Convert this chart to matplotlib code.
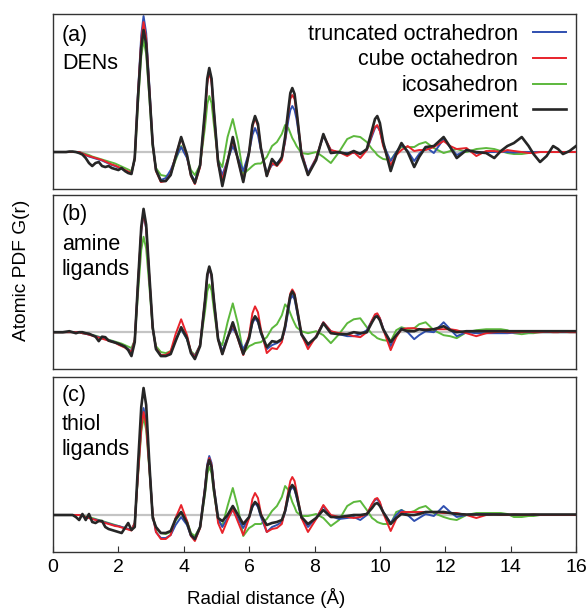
import numpy as np
import matplotlib
matplotlib.use("Agg")
import matplotlib.pyplot as plt

plt.rcParams['font.family'] = ['Liberation Sans', 'DejaVu Sans']

# sampling positions (Angstrom), shared by all curves
r = [0.0, 0.1, 0.2, 0.3, 0.4, 0.5, 0.6, 0.7, 0.8, 0.9, 1.0, 1.1, 1.2, 1.3, 1.4, 1.5, 1.6, 1.7, 1.8, 1.9, 2.0, 2.1, 2.2, 2.3, 2.4,
     2.5, 2.6, 2.7, 2.77, 2.85, 2.95, 3.05, 3.15, 3.3, 3.45, 3.6, 3.75, 3.92, 4.1, 4.22, 4.34, 4.5, 4.65, 4.72, 4.78, 4.85, 4.92,
     5.05, 5.18, 5.34, 5.5, 5.66, 5.82, 6.0, 6.1, 6.18, 6.27, 6.36, 6.54, 6.7, 6.85, 7.0, 7.1, 7.2, 7.26, 7.32, 7.39, 7.45, 7.6, 7.8, 8.05,
     8.27, 8.5, 8.75, 9.0, 9.2, 9.4, 9.6, 9.76, 9.85, 9.92, 10.0, 10.1, 10.33, 10.5, 10.66, 10.85, 11.05, 11.2, 11.4, 11.65, 11.95, 12.15,
     12.35, 12.65, 12.95, 13.25, 13.5, 13.7, 13.9, 14.1, 14.34, 14.55, 14.7, 14.9, 15.1, 15.3, 15.45, 15.6, 15.8, 16.0]

# (a) DENs
a_trunc = [0, 0, 0, 0, 0, 0, 0, 0, 0, -0.15, -0.3, -0.45, -0.55, -0.65, -0.75, -0.85, -1.0, -1.15, -1.3, -1.4, -1.55, -1.7, -1.85, -2.0, -2.1,
           -0.7, 6.0, 11.7, 13.6, 11.9, 6.5, 0.8, -1.8, -2.8, -2.6, -1.8, -0.6, 0.5, -0.6, -2.2, -2.9, -1.4, 4.0, 7.1, 8.2, 7.2, 4.2,
           -1.0, -2.3, -0.8, 0.6, -0.6, -1.9, 0.0, 1.7, 2.4, 1.7, 0.2, -2.1, -1.3, -1.1, -0.6, 1.0, 3.2, 4.2, 4.6, 4.2, 3.3, 0.0, -2.1, -0.6,
           1.6, 0.2, -0.1, -0.1, -0.1, -0.1, 0.2, 1.6, 2.4, 2.6, 2.1, 0.8, -0.9, 0.0, 0.7, 0.1, -0.9, -0.2, 0.5, -0.1, 1.3, 0.5,
           -0.3, 0.2, -0.1, 0.0, 0.0, 0.05, 0.0, -0.05, 0.0, 0.0, 0.0, 0.0, 0.0, 0.0, 0.0, 0.0, 0.0, 0.0]
a_cube = [0, 0, 0, 0, 0, 0, 0, 0, 0, -0.15, -0.3, -0.4, -0.5, -0.6, -0.7, -0.8, -0.95, -1.1, -1.25, -1.35, -1.5, -1.65, -1.8, -1.95, -2.1,
          -0.7, 5.8, 11.2, 13.0, 11.4, 6.2, 0.8, -1.9, -3.0, -2.9, -2.2, -0.4, 1.4, -0.4, -2.4, -3.2, -1.5, 3.8, 6.9, 8.0, 7.0, 4.0,
          -1.2, -2.8, -0.8, 1.2, -0.8, -2.9, 0.0, 2.5, 3.4, 2.6, 0.4, -2.4, -1.1, -1.4, -0.8, 1.2, 4.0, 5.3, 5.7, 5.3, 4.0, 0.0, -2.3, -0.6,
          1.7, 0.2, 0.0, -0.4, 0.0, -0.6, 0.2, 1.8, 2.5, 2.7, 2.1, 0.6, -1.3, -0.3, 0.2, 0.6, 0.1, 0.2, 0.2, 0.5, 1.1, 0.6,
          0.3, 0.4, -0.4, 0.1, 0.1, 0.0, 0.2, 0.1, 0.0, -0.1, -0.1, 0.0, 0.0, 0.0, 0.0, 0.0, 0.0, 0.0]
a_ico = [0, 0, 0, 0, 0, 0, 0, 0, 0, -0.1, -0.2, -0.3, -0.45, -0.55, -0.65, -0.75, -0.85, -0.95, -1.05, -1.15, -1.3, -1.45, -1.6, -1.75, -1.9,
         -0.8, 4.8, 9.6, 11.2, 9.8, 5.3, 0.5, -1.6, -2.3, -2.4, -2.2, -0.8, 0.6, -0.5, -1.8, -2.3, -1.3, 2.5, 4.8, 5.6, 4.9, 2.8,
         -0.8, -1.5, 1.5, 3.3, 1.0, -2.2, -1.7, -1.4, -1.2, -1.15, -1.15, -0.5, 0.6, 1.0, 1.8, 2.7, 2.4, 1.9, 1.4, 1.0, 0.6, -0.1, -0.2, 0.0,
         -0.5, -1.1, 0.0, 1.3, 1.6, 1.5, 1.0, 0.3, 0.0, -0.3, -0.5, -0.7, -0.8, 0.0, 0.5, 0.5, 0.5, 0.8, 1.0, 0.4, -0.1, 0.1,
         0.3, 0.0, 0.3, 0.4, 0.3, 0.1, -0.1, -0.2, -0.2, -0.1, 0.0, 0.0, 0.0, 0.0, 0.0, 0.0, 0.0, 0.0]
a_exp = [0.0, 0.0, 0.0, 0.0, 0.0, 0.05, 0.05, 0.0, -0.1, -0.25, -0.6, -1.1, -1.4, -1.1, -1.0, -1.4, -1.5, -1.4, -1.6, -1.7, -1.8, -1.6, -1.9, -2.1, -2.2,
         -0.6, 5.5, 10.5, 12.2, 10.8, 5.9, 0.8, -1.8, -2.9, -2.9, -2.3, -0.5, 1.5, -0.3, -2.3, -3.1, -1.3, 4.2, 7.35, 8.4, 7.35, 4.2,
         -1.0, -3.4, -1.0, 1.5, -0.8, -3.0, 0.0, 2.7, 3.6, 2.8, 0.4, -2.4, -0.7, -1.3, -0.5, 1.5, 4.3, 5.9, 6.4, 5.8, 4.2, -0.3, -2.3, -0.8,
         1.8, -0.1, 0.0, -0.2, 0.1, -0.2, 0.3, 2.2, 3.3, 3.6, 2.9, 1.0, -1.9, -0.2, 0.9, 0.0, -1.5, -0.5, 0.5, 0.6, 1.5, 0.5,
         -0.6, 0.2, 0.0, -0.1, -0.6, 0.1, 0.6, 0.9, 1.5, 0.6, -0.2, -1.0, -0.4, 0.6, 0.3, -0.2, 0.1, 0.6]

# (b) amine ligands
b_trunc = [0, 0, 0, 0, 0, 0, 0, 0, 0, -0.1, -0.15, -0.25, -0.3, -0.4, -0.5, -0.6, -0.7, -0.8, -0.9, -1.0, -1.2, -1.35, -1.5, -1.7, -1.9,
           -0.8, 4.8, 10.2, 11.9, 10.4, 5.3, 0.4, -1.6, -2.3, -2.3, -2.0, -0.7, 0.3, -0.7, -2.0, -2.4, -1.3, 3.1, 5.6, 6.4, 5.6, 3.2,
           -0.6, -1.9, -0.5, 0.4, -0.5, -1.7, -0.5, 0.9, 1.4, 1.0, -0.1, -1.7, -1.3, -1.1, -0.8, 0.3, 2.2, 3.3, 3.7, 3.3, 2.3, -0.3, -1.4, -0.4,
           1.0, 0.1, -0.2, -0.4, -0.4, -0.2, 0.2, 1.2, 1.7, 1.8, 1.4, 0.4, -1.4, -0.4, 0.4, 0.0, -0.7, -0.3, 0.1, 0.0, 1.0, 0.3,
           -0.4, 0.0, -0.1, -0.1, -0.1, -0.1, -0.1, -0.05, 0.0, 0.0, 0.0, 0.0, 0.0, 0.0, 0.0, 0.0, 0.0, 0.0]
b_cube = [0, 0, 0, 0, 0, 0, 0, 0, 0, -0.1, -0.15, -0.25, -0.35, -0.45, -0.55, -0.65, -0.75, -0.85, -0.95, -1.05, -1.25, -1.4, -1.55, -1.75, -2.0,
          -0.8, 4.9, 10.3, 12.0, 10.5, 5.4, 0.4, -1.6, -2.3, -2.3, -1.9, -0.2, 1.3, -0.3, -2.0, -2.5, -1.3, 3.2, 5.7, 6.5, 5.7, 3.2,
          -0.7, -2.2, -0.6, 0.8, -0.7, -2.3, -0.3, 1.9, 2.6, 2.0, 0.3, -2.1, -1.6, -1.7, -1.0, 0.6, 2.6, 3.9, 4.3, 3.9, 2.7, -0.2, -1.7, -0.4,
          1.0, 0.1, -0.1, -0.2, -0.4, -0.5, 0.0, 1.2, 1.8, 1.9, 1.4, 0.3, -1.8, -0.5, 0.3, 0.4, 0.4, 0.3, 0.3, 0.3, 0.3, 0.3,
          0.2, -0.1, -0.4, -0.1, 0.0, 0.05, 0.0, 0.0, 0.0, 0.05, 0.0, 0.0, 0.05, 0.0, 0.0, 0.05, 0.0, 0.0]
b_ico = [0, 0, 0, 0, 0, 0, 0, 0, 0, -0.1, -0.15, -0.2, -0.3, -0.35, -0.45, -0.55, -0.65, -0.75, -0.85, -0.95, -1.05, -1.15, -1.3, -1.45, -1.6,
         -0.8, 3.9, 8.3, 9.6, 8.4, 4.5, 0.3, -1.4, -2.0, -2.1, -1.9, -0.8, 0.3, -0.7, -1.9, -2.3, -1.3, 2.1, 4.1, 4.8, 4.2, 2.3,
         -0.8, -1.3, 1.0, 2.9, 0.8, -2.1, -1.4, -1.25, -1.1, -1.05, -1.0, -0.5, 0.4, 0.8, 1.7, 2.8, 2.4, 1.9, 1.4, 0.9, 0.5, 0.1, -0.1, 0.1,
         -0.3, -1.1, -0.2, 0.9, 1.3, 1.4, 0.5, -0.2, -0.4, -0.6, -0.7, -0.8, -0.9, 0.2, 0.5, 0.3, 0.4, 0.8, 1.0, 0.2, -0.3, -0.4,
         -0.6, 0.0, 0.2, 0.3, 0.3, 0.3, 0.2, -0.1, -0.2, -0.1, -0.1, 0.0, 0.0, 0.0, 0.0, 0.0, 0.0, 0.0]
b_exp = [0.0, 0.0, 0.0, 0.0, 0.05, 0.1, 0.0, -0.1, 0.0, 0.0, -0.1, -0.15, -0.3, -0.45, -0.9, -0.45, -0.5, -0.85, -0.95, -1.05, -1.15, -1.3, -1.45, -1.8, -2.4,
         -1.0, 5.0, 10.6, 12.4, 10.8, 5.6, 0.5, -1.7, -2.4, -2.4, -2.2, -0.9, 0.5, -0.6, -2.1, -2.7, -1.4, 3.2, 5.8, 6.6, 5.8, 3.3,
         -0.7, -2.2, -0.6, 1.0, -0.6, -2.2, -0.6, 1.1, 1.6, 1.2, 0.0, -1.5, -0.9, -1.0, -0.7, 0.6, 2.6, 3.7, 4.1, 3.7, 2.6, -0.2, -1.2, -0.5,
         0.9, -0.1, -0.2, -0.2, 0.0, -0.1, 0.0, 1.0, 1.5, 1.6, 1.2, 0.3, -1.0, -0.3, 0.3, 0.1, 0.1, 0.3, 0.2, 0.3, 0.6, 0.2,
         0.0, 0.1, 0.1, 0.1, 0.1, 0.1, 0.1, 0.1, 0.1, 0.1, 0.1, 0.1, 0.1, 0.1, 0.1, 0.1, 0.1, 0.1]

# (c) thiol ligands
c_trunc = [0, 0, 0, 0, 0, 0, 0, 0, 0, -0.1, -0.2, -0.3, -0.4, -0.45, -0.55, -0.65, -0.75, -0.85, -0.95, -1.05, -1.1, -1.2, -1.3, -1.4, -1.5,
           -0.8, 4.2, 9.0, 10.7, 9.3, 4.8, 0.0, -1.7, -2.3, -2.3, -2.0, -1.0, -0.2, -1.0, -2.1, -2.5, -1.2, 2.8, 5.1, 5.9, 5.2, 2.9,
           -0.4, -1.2, -0.3, 0.5, -0.4, -1.3, -0.2, 0.8, 1.2, 0.8, -0.2, -1.7, -1.2, -1.0, -0.7, 0.3, 1.8, 2.5, 2.8, 2.5, 1.8, -0.3, -1.2, -0.3,
           0.9, -0.1, -0.4, -0.3, -0.2, -0.5, 0.0, 1.1, 1.5, 1.6, 1.2, 0.3, -0.8, 0.0, 0.5, 0.0, -0.6, -0.3, 0.1, -0.1, 0.9, 0.3,
           -0.2, 0.0, 0.1, 0.1, 0.1, 0.05, 0.0, 0.0, 0.0, 0.0, 0.0, 0.0, 0.0, 0.0, 0.0, 0.0, 0.0, 0.0]
c_cube = [0, 0, 0, 0, 0, 0, 0, 0, 0, -0.1, -0.2, -0.3, -0.4, -0.5, -0.6, -0.7, -0.8, -0.9, -1.0, -1.1, -1.15, -1.25, -1.35, -1.45, -1.55,
          -0.8, 4.0, 8.7, 10.3, 9.0, 4.6, 0.0, -1.7, -2.4, -2.4, -2.0, -0.3, 1.0, -0.6, -2.1, -2.6, -1.3, 2.7, 4.9, 5.7, 5.0, 2.8,
          -0.8, -1.8, -0.5, 0.6, -0.7, -2.0, -0.3, 1.6, 2.2, 1.7, 0.2, -1.7, -1.4, -1.3, -0.9, 0.5, 2.4, 3.4, 3.8, 3.4, 2.4, -0.3, -1.7, -0.4,
          1.0, 0.0, -0.2, -0.2, -0.3, -0.2, 0.1, 1.1, 1.6, 1.7, 1.3, 0.2, -1.6, -0.4, 0.3, 0.3, 0.3, 0.3, 0.3, 0.3, 0.2, 0.2,
          0.2, 0.0, -0.3, 0.0, 0.05, 0.0, 0.0, 0.05, 0.0, 0.0, 0.05, 0.0, 0.0, 0.0, 0.0, 0.0, 0.0, 0.0]
c_ico = [0, 0, 0, 0, 0, 0, 0, 0, 0, -0.1, -0.15, -0.25, -0.3, -0.4, -0.5, -0.6, -0.7, -0.8, -0.9, -1.0, -1.1, -1.2, -1.3, -1.4, -1.5,
         -0.8, 3.9, 8.3, 9.8, 8.5, 4.4, 0.0, -1.4, -1.8, -1.9, -1.7, -0.6, 0.3, -0.6, -1.8, -2.1, -1.2, 2.1, 4.1, 4.8, 4.2, 2.3,
         -0.5, -1.1, 0.9, 2.7, 0.7, -2.1, -1.3, -1.1, -0.9, -0.9, -0.9, -0.4, 0.4, 0.9, 1.8, 2.9, 2.5, 1.9, 1.3, 0.8, 0.3, -0.1, -0.1, 0.1,
         -0.3, -1.1, -0.5, 0.9, 1.3, 1.4, 0.5, -0.3, -0.5, -0.7, -0.8, -0.9, -0.9, 0.3, 0.5, 0.2, 0.4, 0.7, 0.9, 0.2, -0.2, -0.4,
         -0.5, 0.0, 0.2, 0.2, 0.2, 0.2, 0.1, -0.2, -0.2, -0.1, -0.1, 0.0, 0.0, 0.0, 0.0, 0.0, 0.0, 0.0]
c_exp = [0.0, 0.0, 0.0, 0.0, 0.0, 0.0, 0.0, -0.2, -0.5, 0.1, -0.5, 0.1, -0.7, -0.8, -0.6, -0.6, -1.2, -1.4, -1.5, -1.6, -1.7, -1.8, -1.3, -0.8, -1.5,
         -1.2, 5.0, 10.8, 12.7, 11.0, 5.0, -0.3, -1.2, -1.8, -1.8, -1.6, -0.4, 0.3, -0.8, -2.0, -2.4, -1.2, 2.5, 4.8, 5.5, 4.8, 2.6,
         -0.3, -0.6, 0.0, 0.9, 0.0, -0.9, -0.2, 0.9, 1.3, 1.0, 0.0, -1.0, -0.8, -0.7, -0.5, 0.4, 2.0, 2.7, 3.0, 2.7, 2.0, -0.2, -0.9, -0.3,
         0.5, -0.2, -0.2, -0.1, 0.0, 0.0, 0.1, 0.7, 1.1, 1.2, 0.9, 0.3, -0.9, -0.3, 0.1, 0.0, 0.0, 0.1, 0.3, 0.3, 0.3, 0.2,
         0.1, 0.05, 0.05, 0.05, 0.05, 0.05, 0.05, 0.05, 0.05, 0.05, 0.05, 0.05, 0.05, 0.05, 0.05, 0.05, 0.05, 0.05]

labels = ['truncated octrahedron', 'cube octahedron', 'icosahedron', 'experiment']
colors = ['#2f4fb0', '#e8232b', '#5cb83c', '#262626']
panels = [('(a)', ['DENs'], [a_trunc, a_cube, a_ico, a_exp]),
          ('(b)', ['amine', 'ligands'], [b_trunc, b_cube, b_ico, b_exp]),
          ('(c)', ['thiol', 'ligands'], [c_trunc, c_cube, c_ico, c_exp])]
text_y = [[0.88, 0.72], [0.886, 0.714, 0.571], [0.897, 0.726, 0.583]]

fig = plt.figure(figsize=(5.87, 6.08), dpi=100)
boxes = [[0.0903, 0.6891, 0.891, 0.2878],
         [0.0903, 0.3931, 0.891, 0.2862],
         [0.0903, 0.0921, 0.891, 0.2878]]

for i, (tag, name, series) in enumerate(panels):
    ax = fig.add_axes(boxes[i])
    ax.axhline(0, color='#c4c4c4', lw=1.6, zorder=1)
    # draw order: green, red, blue, black on top
    for k in [2, 1, 0, 3]:
        assert len(series[k]) == len(r)
        ax.plot(r, series[k], color=colors[k], lw=1.9 if k == 3 else 1.4,
                label=labels[k], zorder=2 + (k if k != 2 else -1),
                solid_joinstyle='round')
    ax.set_xlim(0, 16)
    ax.set_ylim(-3.7, 13.8)
    ax.set_yticks([])
    for s in ax.spines.values():
        s.set_color('#333333')
        s.set_linewidth(1.0)
    for j, txt in enumerate([tag] + name):
        ax.text(0.017, text_y[i][j], txt, transform=ax.transAxes, fontsize=15.5,
                va='center', ha='left')
    if i < 2:
        ax.set_xticks([])
    else:
        ax.set_xticks(range(0, 17, 2))
        ax.tick_params(axis='x', direction='in', length=4, width=0.8, color='#333333',
                       labelsize=14, pad=5)
    if i == 0:
        h, l = ax.get_legend_handles_labels()
        order = [l.index(x) for x in labels]
        ax.legend([h[j] for j in order], [l[j] for j in order], loc='upper right',
                  fontsize=15.5, frameon=False, markerfirst=False, handlelength=1.55,
                  handletextpad=0.7, labelspacing=0.22, borderpad=0.0, borderaxespad=0.45)

fig.text(0.037, 0.555, 'Atomic PDF G(r)', rotation=90, fontsize=13.8, ha='center', va='center')
fig.text(0.453, 0.017, 'Radial distance (Å)', fontsize=13.5, ha='center', va='center')

fig.savefig('out.png', dpi=100)
